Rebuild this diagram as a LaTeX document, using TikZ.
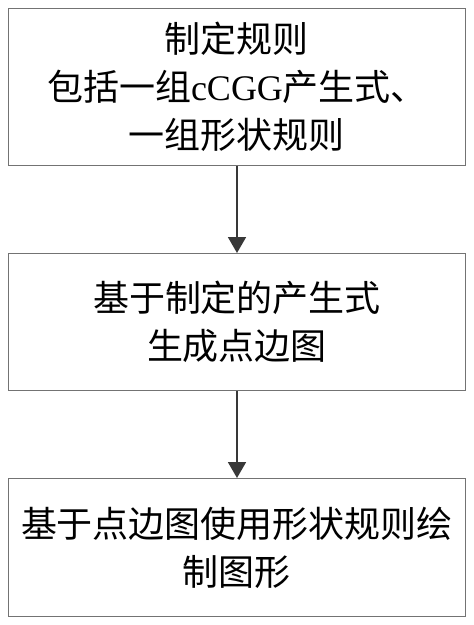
\documentclass[tikz,border=0pt]{standalone}
\usepackage{fontspec}
\setmainfont{Liberation Serif}
\newfontfamily\cjk{Noto Sans CJK SC}
\usetikzlibrary{arrows.meta}
\begin{document}
\begin{tikzpicture}[x=1pt,y=-1pt,
  boxstyle/.style={draw=black!55,line width=1pt,minimum width=457pt,anchor=north west,inner sep=0pt,
    font=\fontsize{36pt}{48pt}\selectfont\cjk,align=center,text=black},
  arrowstyle/.style={draw=black!78,line width=1.8pt,-{Triangle[length=16pt,width=18pt]}}]
\useasboundingbox (0,0) rectangle (474,625);
\node[boxstyle,minimum height=157pt] (r) at (8,8) {制定规则\\包括一组{\rmfamily cCGG}产生式、\\一组形状规则};
\node[boxstyle,minimum height=137pt] (g) at (8,253) {基于制定的产生式\\生成点边图};
\node[boxstyle,minimum height=138pt] (d) at (8,478) {基于点边图使用形状规则绘\\制图形};
\draw[arrowstyle] (r.south) -- (g.north);
\draw[arrowstyle] (g.south) -- (d.north);
\end{tikzpicture}
\end{document}
